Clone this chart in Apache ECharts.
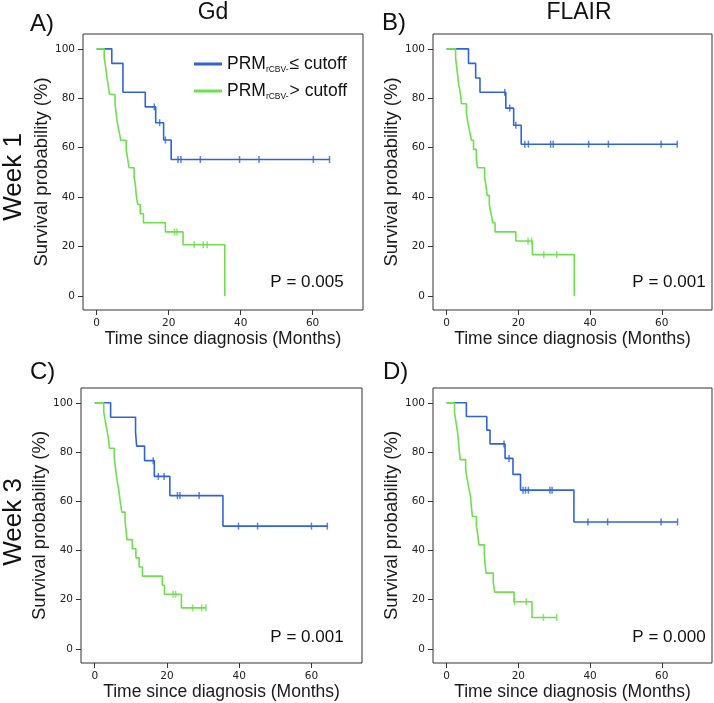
<!DOCTYPE html>
<html>
<head>
<meta charset="utf-8">
<script src="https://cdn.jsdelivr.net/npm/echarts@6/dist/echarts.min.js"></script>
<style>
html,body{margin:0;padding:0;background:#fff;}
#chart{width:714px;height:703px;}
</style>
</head>
<body>
<div id="chart"></div>
<script>
// ---- Data ----
const xTicks = [0, 20, 40, 60];
const yTicks = [0, 20, 40, 60, 80, 100];
const panelLabels = ['A)', 'B)', 'C)', 'D)'];
const columnTitles = ['Gd', 'FLAIR'];
const rowTitles = ['Week 1', 'Week 3'];
const pValues = ['P = 0.005', 'P = 0.001', 'P = 0.001', 'P = 0.000'];
const seriesNames = ['le', 'gt'];

// Panel A: Gd, week 1
const aLowT = [0, 4.2, 7.3, 13.5, 16.4, 18.6, 20.7, 64.7];
const aLowS = [100, 94.1, 82.4, 76.5, 70.1, 63.1, 55.2, 55.2];
const aLowCens = [16.0, 17.5, 19.1, 22.6, 23.4, 28.8, 39.7, 45.1, 60.2, 64.7];
const aHighT = [0, 2.1, 2.5, 2.8, 3.2, 3.6, 5.1, 5.4, 5.7, 6.2, 6.7, 8.2, 8.6, 9.0, 10.4, 10.8, 11.0, 11.4, 12.1, 13.0, 19.1, 24.0, 35.6];
const aHighS = [100, 96.3, 92.6, 88.9, 85.2, 81.5, 77.8, 74.1, 70.4, 66.7, 63.0, 59.3, 55.6, 51.9, 48.1, 44.4, 40.7, 37.0, 33.3, 29.6, 25.9, 20.7, 0];
const aHighCens = [21.6, 22.3, 27.1, 29.6, 30.7];

// Panel B: FLAIR, week 1
const bLowT = [0, 6.1, 8.1, 9.3, 16.5, 18.7, 20.8, 64.3];
const bLowS = [100, 94.1, 88.2, 82.4, 76.0, 69.1, 61.4, 61.4];
const bLowCens = [16.2, 17.6, 19.3, 21.8, 22.8, 29.0, 29.7, 39.6, 45.1, 59.8, 64.3];
const bHighT = [0, 2.5, 2.8, 3.1, 3.4, 3.9, 4.1, 5.5, 5.9, 6.4, 6.9, 7.5, 8.3, 8.6, 10.6, 11.0, 11.3, 11.9, 12.4, 12.9, 13.5, 19.3, 23.9, 35.6];
const bHighS = [100, 96.3, 92.6, 88.9, 85.2, 81.5, 77.8, 74.1, 70.4, 66.7, 63.0, 59.3, 55.6, 51.9, 48.1, 44.4, 40.7, 37.0, 33.3, 29.6, 25.9, 22.2, 16.7, 0];
const bHighCens = [22.7, 23.7, 27.1, 30.7];

// Panel C: Gd, week 3
const cLowT = [0, 4.4, 11.3, 11.6, 13.8, 16.5, 20.8, 35.5, 64.4];
const cLowS = [100, 94.1, 88.2, 82.4, 76.5, 70.1, 62.3, 49.9, 49.9];
const cLowCens = [16.2, 17.6, 19.2, 22.9, 23.6, 28.9, 39.8, 45.1, 60.0, 64.4];
const cHighT = [0, 2.5, 2.9, 3.4, 3.8, 4.1, 5.4, 5.7, 6.0, 6.4, 6.8, 7.1, 7.5, 8.4, 8.7, 8.9, 10.4, 11.4, 12.3, 13.2, 18.7, 19.3, 24.0, 30.8];
const cHighS = [100, 96.3, 92.6, 88.9, 85.2, 81.5, 77.8, 74.1, 70.4, 66.7, 63.0, 59.3, 55.6, 51.9, 48.1, 44.4, 40.7, 37.0, 33.3, 29.6, 25.9, 22.2, 16.7, 16.7];
const cHighCens = [21.7, 22.4, 27.1, 29.6, 30.8];

// Panel D: FLAIR, week 3
const dLowT = [0, 5.5, 11.2, 12.1, 16.3, 18.5, 20.6, 35.5, 64.4];
const dLowS = [100, 94.4, 88.9, 83.3, 77.4, 70.9, 64.5, 51.6, 51.6];
const dLowCens = [16.0, 17.4, 21.3, 22.0, 22.8, 28.8, 29.4, 39.4, 44.9, 59.8, 64.4];
const dHighT = [0, 2.2, 2.6, 3.0, 3.3, 3.5, 3.8, 5.3, 5.7, 6.2, 6.7, 6.9, 7.2, 8.3, 8.7, 9.0, 10.5, 10.7, 11.0, 13.0, 13.4, 18.8, 23.8, 30.7];
const dHighS = [100, 96.2, 92.3, 88.5, 84.6, 80.8, 76.9, 73.1, 69.2, 65.4, 61.5, 57.7, 53.8, 50.0, 46.2, 42.3, 38.5, 34.6, 30.8, 26.9, 23.1, 19.2, 12.8, 12.8];
const dHighCens = [18.9, 22.2, 27.0, 30.7];

// ---- Presentation ----
const BLUE = '#2f64d8';
const GREEN = '#6ee04e';
const FONT = '"Liberation Sans", Arial, sans-serif';

const panels = [
  {low: [aLowT, aLowS, aLowCens], high: [aHighT, aHighS, aHighCens]},
  {low: [bLowT, bLowS, bLowCens], high: [bHighT, bHighS, bHighCens]},
  {low: [cLowT, cLowS, cLowCens], high: [cHighT, cHighS, cHighCens]},
  {low: [dLowT, dLowS, dLowCens], high: [dHighT, dHighS, dHighCens]}
];

const gridBoxes = [
  {left: 83, top: 34, width: 280, height: 276},
  {left: 433, top: 34, width: 279, height: 276},
  {left: 81, top: 388, width: 281, height: 275},
  {left: 433, top: 388, width: 279, height: 275}
];

function pairs(T, S) { return T.map((t, i) => [t, S[i]]); }
function survAt(T, S, t) {
  let v = S[0];
  for (let i = 0; i < T.length; i++) { if (T[i] <= t + 1e-9) v = S[i]; }
  return v;
}

const grids = [], xAxes = [], yAxes = [], series = [];
panels.forEach((p, i) => {
  grids.push(Object.assign({show: true, borderColor: '#333', borderWidth: 1, backgroundColor: 'transparent'}, gridBoxes[i]));
  xAxes.push({
    gridIndex: i, type: 'value', min: -3.8, max: 74, position: 'bottom',
    name: 'Time since diagnosis (Months)', nameLocation: 'middle', nameGap: 19,
    nameTextStyle: {fontFamily: FONT, fontSize: 17.5, color: '#1a1a1a'},
    axisLine: {show: false, onZero: false},
    axisTick: {show: true, customValues: xTicks, length: 5, lineStyle: {color: '#333'}},
    axisLabel: {show: true, customValues: xTicks, margin: 8, fontFamily: '"DejaVu Sans", sans-serif', fontSize: 10.5, color: '#222'},
    splitLine: {show: false}
  });
  yAxes.push({
    gridIndex: i, type: 'value', min: -5.7, max: 106, position: 'left',
    name: 'Survival probability (%)', nameLocation: 'middle', nameGap: 32,
    nameTextStyle: {fontFamily: FONT, fontSize: 18.5, color: '#1a1a1a'},
    axisLine: {show: false, onZero: false},
    axisTick: {show: true, customValues: yTicks, length: 5, lineStyle: {color: '#333'}},
    axisLabel: {show: true, customValues: yTicks, margin: 8, fontFamily: '"DejaVu Sans", sans-serif', fontSize: 10.5, color: '#222'},
    splitLine: {show: false}
  });
  [['le', p.low, BLUE], ['gt', p.high, GREEN]].forEach(([nm, d, col]) => {
    series.push({
      name: nm, type: 'line', step: 'end', xAxisIndex: i, yAxisIndex: i,
      data: pairs(d[0], d[1]), symbol: 'none', showSymbol: false,
      color: col, itemStyle: {color: col}, lineStyle: {color: col, width: 1.6},
      silent: true, z: 3
    });
    series.push({
      name: 'cens_' + nm, type: 'scatter', xAxisIndex: i, yAxisIndex: i,
      data: d[2].map(t => [t, survAt(d[0], d[1], t)]),
      symbol: 'rect', symbolSize: [1.5, 7],
      itemStyle: {color: col}, silent: true, z: 4
    });
  });
});

const graphics = [];
function txt(text, x, y, size, opts) {
  const o = Object.assign({align: 'center', vAlign: 'middle', rotation: 0}, opts || {});
  graphics.push({
    type: 'text', x: x, y: y, rotation: o.rotation, silent: true,
    style: {text: text, fontFamily: FONT, fontSize: size, fill: '#111', align: o.align, verticalAlign: o.vAlign}
  });
}
txt(columnTitles[0], 213, 13, 23);
txt(columnTitles[1], 579, 13, 23);
txt(panelLabels[0], 30, 24, 24, {align: 'left'});
txt(panelLabels[1], 382, 23, 24, {align: 'left'});
txt(panelLabels[2], 30, 372, 24, {align: 'left'});
txt(panelLabels[3], 383, 372, 24, {align: 'left'});
txt(rowTitles[0], 14, 177, 26, {rotation: Math.PI / 2});
txt(rowTitles[1], 14, 522, 26, {rotation: Math.PI / 2});
txt(pValues[0], 307, 282, 17);
txt(pValues[1], 669, 282, 17);
txt(pValues[2], 307, 637, 17);
txt(pValues[3], 669, 637, 17);

const chart = echarts.init(document.getElementById('chart'), null, {renderer: 'canvas'});
chart.setOption({
  animation: false,
  backgroundColor: '#fff',
  grid: grids, xAxis: xAxes, yAxis: yAxes, series: series,
  legend: {
    data: seriesNames, orient: 'vertical', left: 194, top: 55, padding: 0,
    icon: 'rect', itemWidth: 28, itemHeight: 3, itemGap: 8,
    selectedMode: false,
    formatter: function (name) {
      return name === 'le' ? '{m|PRM}{s|rCBV-}{m|≤ cutoff}' : '{m|PRM}{s|rCBV-}{m|> cutoff}';
    },
    textStyle: {
      fontFamily: FONT, color: '#111',
      rich: {
        m: {fontFamily: FONT, fontSize: 17.5, lineHeight: 20, color: '#111'},
        s: {fontFamily: FONT, fontSize: 8.5, lineHeight: 8, verticalAlign: 'bottom', color: '#111', padding: [0, 1, 0, 0]}
      }
    }
  },
  graphic: graphics
});
</script>
</body>
</html>
